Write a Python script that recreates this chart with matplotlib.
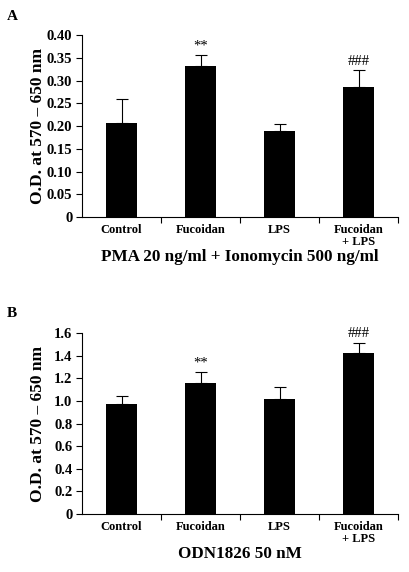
import matplotlib
matplotlib.use("Agg")
import matplotlib.pyplot as plt

categories = ["Control", "Fucoidan", "LPS", "Fucoidan\n+ LPS"]

a_values = [0.207, 0.332, 0.190, 0.285]
a_errors = [0.053, 0.025, 0.014, 0.038]
a_marks = ["", "**", "", "###"]
a_yticks = [0, 0.05, 0.10, 0.15, 0.20, 0.25, 0.30, 0.35, 0.40]
a_yticklabels = ["0", "0.05", "0.10", "0.15", "0.20", "0.25", "0.30", "0.35", "0.40"]

b_values = [0.97, 1.155, 1.02, 1.42]
b_errors = [0.07, 0.10, 0.10, 0.095]
b_marks = ["", "**", "", "###"]
b_yticks = [0, 0.2, 0.4, 0.6, 0.8, 1.0, 1.2, 1.4, 1.6]
b_yticklabels = ["0", "0.2", "0.4", "0.6", "0.8", "1.0", "1.2", "1.4", "1.6"]

plt.rcParams["font.family"] = ["Liberation Serif", "DejaVu Serif"]
plt.rcParams["font.weight"] = "bold"


def panel(ax, values, errors, marks, yticks, yticklabels, xlabel, xlabel_y, letter, letter_y):
    x = range(len(values))
    ax.bar(x, values, width=0.4, color="black")
    ax.errorbar(list(x), values, yerr=[[0] * len(values), errors], fmt="none",
                ecolor="black", elinewidth=0.8, capsize=4, capthick=0.8)
    for i, m in enumerate(marks):
        if m:
            ax.text(i, values[i] + errors[i] + yticks[-1] * 0.012, m, ha="center", va="bottom",
                    fontsize=10.5, fontweight="normal")
    ax.set_xlim(-0.5, len(values) - 0.5)
    ax.set_ylim(0, yticks[-1])
    ax.set_yticks(yticks)
    ax.set_yticklabels(yticklabels, fontsize=10.5, fontweight="bold")
    ax.set_xticks([i + 0.5 for i in range(len(values))])
    ax.set_xticklabels([])
    ax.set_xticks(list(x), minor=True)
    ax.set_xticklabels(categories, minor=True, fontsize=9, fontweight="bold")
    for lbl in ax.get_xticklabels(minor=True):
        lbl.set_linespacing(1.0)
    ax.tick_params(axis="x", which="minor", length=0, pad=5)
    ax.tick_params(axis="x", which="major", length=4, width=0.8, direction="out")
    ax.tick_params(axis="y", length=4, width=0.8, direction="out", pad=3)
    for s in ["top", "right"]:
        ax.spines[s].set_visible(False)
    ax.spines["left"].set_linewidth(0.8)
    ax.spines["bottom"].set_linewidth(0.8)
    ax.set_ylabel("O.D. at 570 \u2013 650 nm", fontsize=12.5, fontweight="bold")
    ax.yaxis.set_label_coords(-0.115, 0.5)
    ax.set_xlabel(xlabel, fontsize=12.3, fontweight="bold")
    ax.xaxis.set_label_coords(0.5, xlabel_y)
    ax.text(-0.237, letter_y, letter, transform=ax.transAxes, fontsize=11, fontweight="bold",
            ha="left", va="center")


fig = plt.figure(figsize=(4.1, 5.72), dpi=100)
ax1 = fig.add_axes([0.2, 0.6206, 0.771, 0.3182])
ax2 = fig.add_axes([0.2, 0.1014, 0.771, 0.3164])

panel(ax1, a_values, a_errors, a_marks, a_yticks, a_yticklabels,
      "PMA 20 ng/ml + Ionomycin 500 ng/ml", -0.176, "A", 1.104)
panel(ax2, b_values, b_errors, b_marks, b_yticks, b_yticklabels,
      "ODN1826 50 nM", -0.178, "B", 1.11)

fig.savefig("out.png", dpi=100)
